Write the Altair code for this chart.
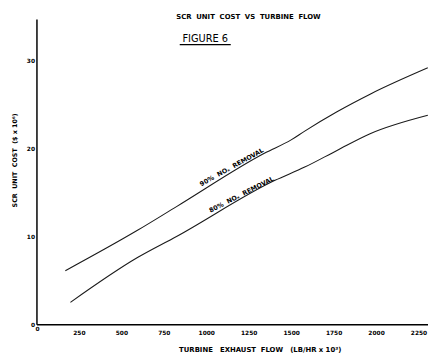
import altair as alt
import pandas as pd

# ---- data ----
flow_90 = [170, 595, 825, 1345, 1500, 1580, 1770, 1965, 2305]
cost_90 = [6.1, 10.7, 13.4, 19.5, 21.0, 22.0, 24.2, 26.2, 29.2]
flow_80 = [200, 595, 825, 1405, 1580, 1770, 1965, 2305]
cost_80 = [2.5, 7.6, 10.0, 16.4, 17.9, 19.8, 21.7, 23.8]
x_ticks = [250, 500, 750, 1000, 1250, 1500, 1750, 2000, 2250]
y_ticks = [0, 10, 20, 30]
series_names = ["90%\u00a0\u00a0NOₓ\u00a0\u00a0REMOVAL", "80%\u00a0\u00a0NOₓ\u00a0\u00a0REMOVAL"]
chart_title = "SCR\u00a0 UNIT\u00a0 COST\u00a0 VS\u00a0 TURBINE\u00a0 FLOW"
figure_label = "FIGURE 6"
y_title = "SCR\u00a0 UNIT\u00a0 COST\u00a0 ($ x 10⁶)"
x_title = "TURBINE\u00a0\u00a0 EXHAUST\u00a0 FLOW\u00a0\u00a0 (LB/HR x 10³)"

W, H = 399, 311
FONT = "DejaVu Sans"

df = pd.DataFrame({
    "flow": flow_90 + flow_80,
    "cost": cost_90 + cost_80,
    "series": [series_names[0]] * len(flow_90) + [series_names[1]] * len(flow_80),
})

x_enc = alt.X(
    "flow:Q",
    scale=alt.Scale(domain=[0, 2306], nice=False, zero=False),
    axis=alt.Axis(values=x_ticks, title=None, grid=False, ticks=False,
                  domainColor="black", domainWidth=1.5, format="d",
                  labelFont=FONT, labelFontWeight="bold", labelFontSize=6,
                  labelColor="black", labelPadding=5, labelFlush=False,
                  labelOverlap=False),
)
y_enc = alt.Y(
    "cost:Q",
    scale=alt.Scale(domain=[0, 34.75], nice=False),
    axis=alt.Axis(values=y_ticks, title=None, grid=False, ticks=False,
                  domainColor="black", domainWidth=1.5,
                  labelFont=FONT, labelFontWeight="bold", labelFontSize=6,
                  labelColor="black", labelPadding=2, labelFlush=False,
                  labelOverlap=False, format="d"),
)

lines = alt.Chart(df).mark_line(
    color="#1a1a1a", strokeWidth=1.1, clip=True, interpolate="monotone"
).encode(x=x_enc, y=y_enc, detail="series:N")


def txt(s, x, y, size=6, weight="bold", angle=0, baseline="middle", align="center"):
    return alt.Chart(pd.DataFrame({"t": [s]})).mark_text(
        font=FONT, fontSize=size, fontWeight=weight, color="black",
        angle=angle, baseline=baseline, align=align,
    ).encode(x=alt.value(x), y=alt.value(y), text="t:N")


title_t = txt(chart_title, 216, -2.5, size=7)
fig_t = txt(figure_label, 172, 20.5, size=10, weight="normal")
underline = alt.Chart(pd.DataFrame({"a": [0]})).mark_rule(color="black", strokeWidth=1.5).encode(
    x=alt.value(146), x2=alt.value(198), y=alt.value(26)
)
ytitle_t = txt(y_title, -22, 144, size=6.5, angle=270)
xtitle_t = txt(x_title, 228, 337, size=7)
zero_x = txt("0", 1, 313, size=6, baseline="top")
lab90 = txt(series_names[0], 199, 151, size=6.5, angle=331)
lab80 = txt(series_names[1], 209, 179, size=6.5, angle=333)

chart = alt.layer(
    lines, title_t, fig_t, underline, ytitle_t, xtitle_t, zero_x, lab90, lab80
).properties(
    width=W, height=H,
    autosize=alt.AutoSizeParams(type="none"),
    padding={"left": 29, "top": 8, "right": 0, "bottom": 30},
    background="white",
).configure_view(stroke=None)

chart.save("out.html", embed_options={"renderer": "svg", "actions": False})
